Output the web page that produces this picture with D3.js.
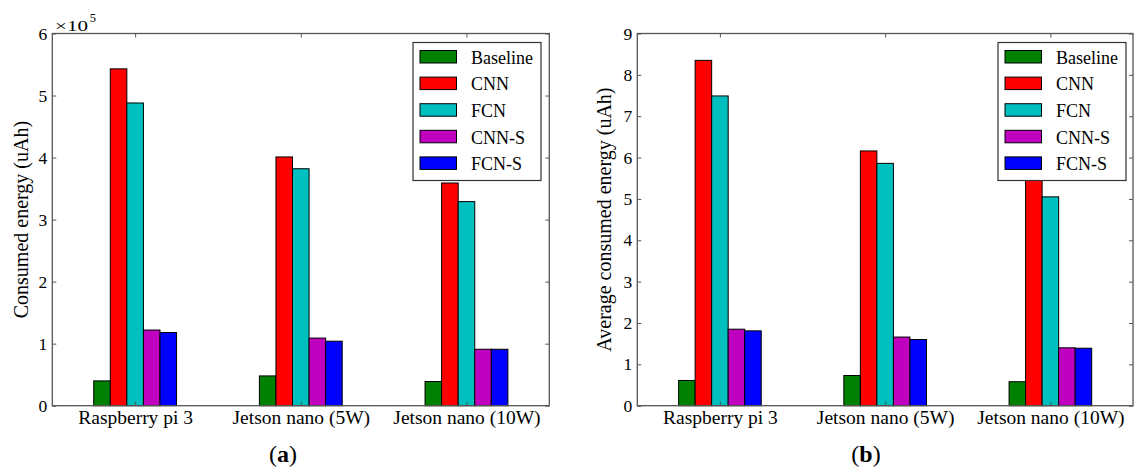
<!DOCTYPE html>
<html>
<head>
<meta charset="utf-8">
<script src="https://cdn.jsdelivr.net/npm/d3@7"></script>
<style>
body { margin: 0; background: #fff; }
text { font-family: "Liberation Serif", "Times New Roman", serif; fill: #000; }
</style>
</head>
<body>
<div id="chart"></div>
<script>
var devices = ["Raspberry pi 3", "Jetson nano (5W)", "Jetson nano (10W)"];
var methods = ["Baseline", "CNN", "FCN", "CNN-S", "FCN-S"];
var methodColors = ["#008000", "#ff0000", "#00bfbf", "#bf00bf", "#0000ff"];

// (a) consumed energy, in units of 1e5 uAh
var totalBaseline = [0.40, 0.48, 0.39];
var totalCNN      = [5.43, 4.01, 3.59];
var totalFCN      = [4.88, 3.82, 3.29];
var totalCNNS     = [1.22, 1.09, 0.91];
var totalFCNS     = [1.18, 1.04, 0.91];

// (b) average consumed energy (uAh)
var avgBaseline = [0.61, 0.73, 0.58];
var avgCNN      = [8.35, 6.16, 5.52];
var avgFCN      = [7.49, 5.86, 5.05];
var avgCNNS     = [1.85, 1.66, 1.40];
var avgFCNS     = [1.81, 1.60, 1.39];

var yTicksA = [0, 1, 2, 3, 4, 5, 6];
var yTicksB = [0, 1, 2, 3, 4, 5, 6, 7, 8, 9];

var svg = d3.select("#chart")
    .append("svg")
    .attr("width", 1134)
    .attr("height", 474);

function drawPanel(p) {
    var x = d3.scaleLinear().domain([-0.5, devices.length - 0.5]).range([p.left, p.right]);
    var y = d3.scaleLinear().domain([0, p.yMax]).range([p.bottom, p.top]);
    var barW = x(0.1) - x(0);

    var g = svg.append("g");

    // bars
    p.series.forEach(function(vals, k) {
        g.selectAll("rect.s" + k)
            .data(vals)
            .enter()
            .append("rect")
            .attr("class", "s" + k)
            .attr("x", function(d, i) { return x(i - 0.25 + k * 0.1); })
            .attr("y", function(d) { return y(d); })
            .attr("width", barW)
            .attr("height", function(d) { return y(0) - y(d); })
            .attr("fill", methodColors[k])
            .attr("stroke", "#000")
            .attr("stroke-width", 1);
    });

    // inward ticks on all sides
    var idx = devices.map(function(d, i) { return i; });
    var axB = g.append("g").attr("transform", "translate(0," + p.bottom + ")")
        .call(d3.axisBottom(x).tickValues(idx).tickSize(-4).tickPadding(5)
            .tickFormat(function(i) { return devices[i]; }));
    axB.selectAll("text").attr("dy", null).attr("y", 18.5).style("font-size", "19.5px");
    g.append("g").attr("transform", "translate(0," + p.top + ")")
        .call(d3.axisTop(x).tickValues(idx).tickSize(-4).tickFormat(""));
    var axL = g.append("g").attr("transform", "translate(" + p.left + ",0)")
        .call(d3.axisLeft(y).tickValues(p.yTicks).tickSize(-4).tickPadding(5).tickFormat(d3.format("d")));
    axL.selectAll("text").style("font-size", "17.5px");
    g.append("g").attr("transform", "translate(" + p.right + ",0)")
        .call(d3.axisRight(y).tickValues(p.yTicks).tickSize(-4).tickFormat(""));
    g.selectAll(".domain").remove();
    g.selectAll(".tick line").attr("stroke", "#555");
    g.selectAll(".tick text").attr("font-family", null).attr("font-size", null);

    // frame
    g.append("rect")
        .attr("x", p.left).attr("y", p.top)
        .attr("width", p.right - p.left).attr("height", p.bottom - p.top)
        .attr("fill", "none").attr("stroke", "#555").attr("stroke-width", 1.3);

    // y label
    g.append("text")
        .attr("transform", "translate(" + p.ylabelX + "," + ((p.top + p.bottom) / 2) + ") rotate(-90)")
        .attr("text-anchor", "middle")
        .style("font-size", "20px")
        .text(p.ylabel);

    // offset text (x10^5) above the axis
    if (p.exponent) {
        g.append("text").attr("x", p.left + 2.7).attr("y", p.top - 3)
            .style("font-size", "15.5px")
            .attr("textLength", 33).attr("lengthAdjust", "spacingAndGlyphs")
            .text("\u00d710");
        g.append("text").attr("x", p.left + 37.5).attr("y", p.top - 11.5)
            .style("font-size", "12.5px")
            .text(p.exponent);
    }

    // legend
    var leg = g.append("g").attr("transform", "translate(" + p.legendX + "," + (p.top + 9) + ")");
    leg.append("rect")
        .attr("width", 128).attr("height", 138)
        .attr("fill", "#fff").attr("stroke", "#333").attr("stroke-width", 1.2);
    var rows = leg.selectAll("g.row")
        .data(methods)
        .enter()
        .append("g")
        .attr("class", "row")
        .attr("transform", function(d, i) { return "translate(0," + (8 + i * 26.6) + ")"; });
    rows.append("rect")
        .attr("x", 7).attr("width", 36.5).attr("height", 12.5)
        .attr("fill", function(d, i) { return methodColors[i]; })
        .attr("stroke", "#000").attr("stroke-width", 1);
    rows.append("text")
        .attr("x", 58).attr("y", 13.3)
        .style("font-size", "18px")
        .text(function(d) { return d; });

    // caption
    var cap = svg.append("text")
        .attr("x", p.captionX).attr("y", 461.5)
        .attr("text-anchor", "middle")
        .style("font-size", "24px");
    cap.append("tspan").text("(");
    cap.append("tspan").attr("font-weight", "bold").text(p.caption);
    cap.append("tspan").text(")");
}

drawPanel({
    left: 52.3, right: 549.3, top: 33.5, bottom: 405.7,
    yMax: 6, yTicks: yTicksA,
    series: [totalBaseline, totalCNN, totalFCN, totalCNNS, totalFCNS],
    ylabel: "Consumed energy (uAh)", ylabelX: 28,
    exponent: "5",
    legendX: 413, caption: "a", captionX: 283
});

drawPanel({
    left: 637.3, right: 1133, top: 33.5, bottom: 405.7,
    yMax: 9, yTicks: yTicksB,
    series: [avgBaseline, avgCNN, avgFCN, avgCNNS, avgFCNS],
    ylabel: "Average consumed energy (uAh)", ylabelX: 611,
    exponent: null,
    legendX: 998, caption: "b", captionX: 866
});
</script>
</body>
</html>
